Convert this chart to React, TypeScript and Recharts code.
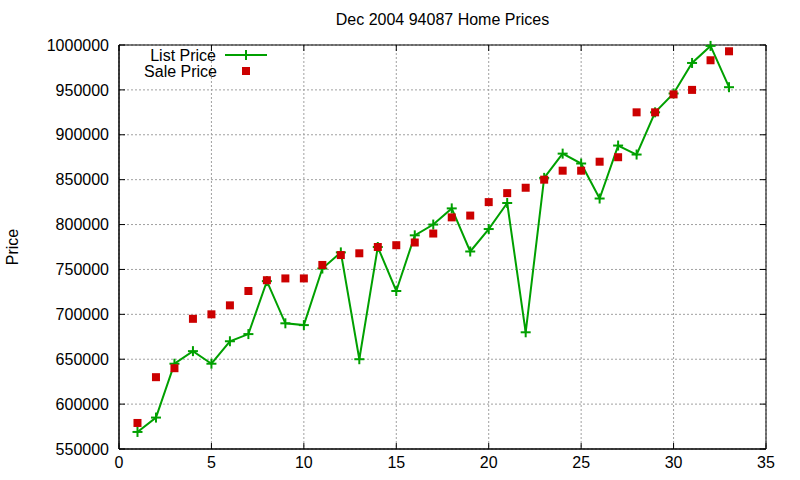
import {
  LineChart,
  Line,
  XAxis,
  YAxis,
  CartesianGrid,
  Legend,
  ReferenceArea,
} from "recharts";

const months = [
  1, 2, 3, 4, 5, 6, 7, 8, 9, 10, 11, 12, 13, 14, 15, 16, 17, 18, 19, 20, 21,
  22, 23, 24, 25, 26, 27, 28, 29, 30, 31, 32, 33,
];

const listPrices = [
  569000, 585000, 645000, 659000, 645000, 670000, 678000, 737000, 690000,
  688000, 751000, 769000, 650000, 775000, 726000, 788000, 800000, 818000,
  770000, 795000, 824000, 680000, 852000, 879000, 868000, 829000, 888000,
  878000, 925000, 946000, 980000, 999000, 953000,
];

const salePrices = [
  579000, 630000, 640000, 695000, 700000, 710000, 726000, 738000, 740000,
  740000, 755000, 766000, 768000, 775000, 777000, 780000, 790000, 808000,
  810000, 825000, 835000, 841000, 850000, 860000, 860000, 870000, 875000,
  925000, 925000, 945000, 950000, 983000, 993000,
];

const xTicks = [0, 5, 10, 15, 20, 25, 30, 35];
const yTicks = [
  550000, 600000, 650000, 700000, 750000, 800000, 850000, 900000, 950000,
  1000000,
];

const data = months.map((m, i) => ({
  month: m,
  list: listPrices[i],
  sale: salePrices[i],
}));

const W = 800;
const H = 480;
const MARGIN = { top: 45, right: 34, bottom: 0, left: 0 };
const PLOT_LEFT = 119;
const PLOT_RIGHT = W - MARGIN.right;
const PLOT_TOP = MARGIN.top;
const TICK = 6;
const FONT = "'Liberation Sans', Arial, sans-serif";
const GREEN = "#00a000";
const RED = "#cc0000";

function XTick({ x, y, payload }: any) {
  return (
    <g>
      <line x1={x} x2={x} y1={y} y2={y - TICK} stroke="#000" />
      <line x1={x} x2={x} y1={PLOT_TOP} y2={PLOT_TOP + TICK} stroke="#000" />
      <text
        x={x}
        y={y + 13}
        textAnchor="middle"
        dy="0.355em"
        fontSize={16}
        fontFamily={FONT}
        fill="#000"
      >
        {payload.value}
      </text>
    </g>
  );
}

function YTick({ x, y, payload }: any) {
  return (
    <g>
      <line x1={x} x2={x + TICK} y1={y} y2={y} stroke="#000" />
      <line
        x1={PLOT_RIGHT}
        x2={PLOT_RIGHT - TICK}
        y1={y}
        y2={y}
        stroke="#000"
      />
      <text
        x={x - 10}
        y={y}
        textAnchor="end"
        dy="0.355em"
        fontSize={16}
        fontFamily={FONT}
        fill="#000"
      >
        {payload.value}
      </text>
    </g>
  );
}

function PlusDot({ cx, cy }: any) {
  if (cx == null || cy == null) return null;
  return (
    <g>
      <line x1={cx - 5} x2={cx + 5} y1={cy} y2={cy} stroke={GREEN} strokeWidth={2} />
      <line x1={cx} x2={cx} y1={cy - 5} y2={cy + 5} stroke={GREEN} strokeWidth={2} />
    </g>
  );
}

function SquareDot({ cx, cy }: any) {
  if (cx == null || cy == null) return null;
  return <rect x={cx - 4} y={cy - 4} width={8} height={8} fill={RED} />;
}

function LegendBox() {
  return (
    <svg width={160} height={36} style={{ display: "block" }}>
      <text x={96} y={11} dy="0.355em" textAnchor="end" fontSize={16} fontFamily={FONT} fill="#000">
        List Price
      </text>
      <line x1={105} x2={147} y1={11} y2={11} stroke={GREEN} strokeWidth={2} />
      <line x1={126} x2={126} y1={6} y2={16} stroke={GREEN} strokeWidth={2} />
      <text x={97} y={27} dy="0.355em" textAnchor="end" fontSize={16} fontFamily={FONT} fill="#000">
        Sale Price
      </text>
      <rect x={122} y={23} width={8} height={8} fill={RED} />
    </svg>
  );
}

export default function App() {
  return (
    <div
      style={{
        position: "absolute",
        left: 0,
        top: 0,
        width: W,
        height: H,
        background: "#fff",
        fontFamily: FONT,
      }}
    >
      <div
        style={{
          position: "absolute",
          top: 11,
          left: PLOT_LEFT,
          width: PLOT_RIGHT - PLOT_LEFT,
          textAlign: "center",
          fontSize: 16,
          lineHeight: "18px",
          color: "#000",
        }}
      >
        Dec 2004 94087 Home Prices
      </div>
      <LineChart width={W} height={H} data={data} margin={MARGIN}>
        <CartesianGrid
          stroke="#a0a0a0"
          strokeDasharray="2 2"
          horizontalValues={yTicks}
          verticalValues={xTicks}
        />
        <XAxis
          type="number"
          dataKey="month"
          domain={[0, 35]}
          ticks={xTicks}
          height={31}
          tickSize={0}
          tickMargin={0}
          tickLine={false}
          axisLine={{ stroke: "#000" }}
          tick={<XTick />}
          interval={0}
        />
        <YAxis
          type="number"
          domain={[550000, 1000000]}
          ticks={yTicks}
          width={PLOT_LEFT}
          tickSize={0}
          tickMargin={0}
          tickLine={false}
          axisLine={{ stroke: "#000" }}
          tick={<YTick />}
          interval={0}
          label={{
            value: "Price",
            angle: -90,
            position: "center",
            dx: -47,
            fontSize: 16,
            fontFamily: FONT,
            fill: "#000",
          }}
        />
        <ReferenceArea
          x1={0}
          x2={35}
          y1={550000}
          y2={1000000}
          fill="none"
          stroke="#000"
          strokeWidth={1}
          ifOverflow="visible"
        />
        <Legend
          layout="vertical"
          align="center"
          verticalAlign="middle"
          content={() => <LegendBox />}
          wrapperStyle={{ left: 120, top: 44, width: 160 }}
        />
        <Line
          dataKey="list"
          name="List Price"
          stroke={GREEN}
          strokeWidth={2}
          type="linear"
          dot={<PlusDot />}
          activeDot={false}
          isAnimationActive={false}
        />
        <Line
          dataKey="sale"
          name="Sale Price"
          stroke="none"
          type="linear"
          dot={<SquareDot />}
          activeDot={false}
          isAnimationActive={false}
        />
      </LineChart>
    </div>
  );
}
